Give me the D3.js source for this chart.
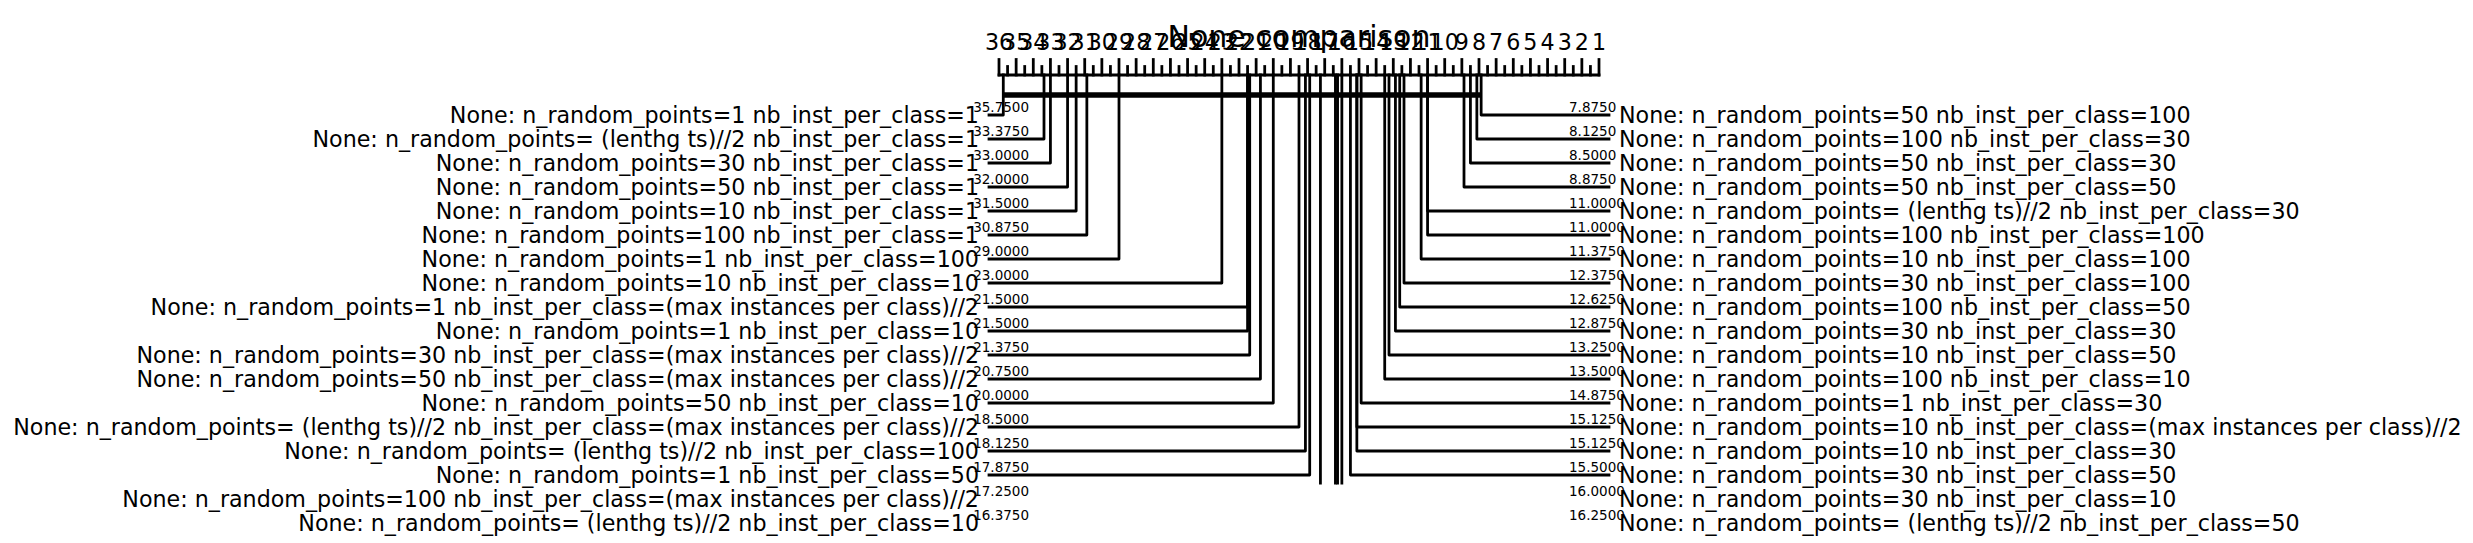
<!DOCTYPE html>
<html>
<head>
<meta charset="utf-8">
<script src="https://cdn.jsdelivr.net/npm/d3@7"></script>
<style>
  html, body { margin: 0; padding: 0; background: #fff; }
  svg text { font-family: "DejaVu Sans", sans-serif; fill: #000; white-space: pre; }
</style>
</head>
<body>
<div id="chart"></div>
<script>
// ---------------- data ----------------
const title = "None comparison";

const leftNames = [
  "None: n_random_points=1 nb_inst_per_class=1",
  "None: n_random_points= (lenthg ts)//2 nb_inst_per_class=1",
  "None: n_random_points=30 nb_inst_per_class=1",
  "None: n_random_points=50 nb_inst_per_class=1",
  "None: n_random_points=10 nb_inst_per_class=1",
  "None: n_random_points=100 nb_inst_per_class=1",
  "None: n_random_points=1 nb_inst_per_class=100",
  "None: n_random_points=10 nb_inst_per_class=10",
  "None: n_random_points=1 nb_inst_per_class=(max instances per class)//2",
  "None: n_random_points=1 nb_inst_per_class=10",
  "None: n_random_points=30 nb_inst_per_class=(max instances per class)//2",
  "None: n_random_points=50 nb_inst_per_class=(max instances per class)//2",
  "None: n_random_points=50 nb_inst_per_class=10",
  "None: n_random_points= (lenthg ts)//2 nb_inst_per_class=(max instances per class)//2",
  "None: n_random_points= (lenthg ts)//2 nb_inst_per_class=100",
  "None: n_random_points=1 nb_inst_per_class=50",
  "None: n_random_points=100 nb_inst_per_class=(max instances per class)//2",
  "None: n_random_points= (lenthg ts)//2 nb_inst_per_class=10"
];
const leftRanks = [35.75, 33.375, 33.0, 32.0, 31.5, 30.875, 29.0, 23.0, 21.5, 21.5,
                   21.375, 20.75, 20.0, 18.5, 18.125, 17.875, 17.25, 16.375];

const rightNames = [
  "None: n_random_points=50 nb_inst_per_class=100",
  "None: n_random_points=100 nb_inst_per_class=30",
  "None: n_random_points=50 nb_inst_per_class=30",
  "None: n_random_points=50 nb_inst_per_class=50",
  "None: n_random_points= (lenthg ts)//2 nb_inst_per_class=30",
  "None: n_random_points=100 nb_inst_per_class=100",
  "None: n_random_points=10 nb_inst_per_class=100",
  "None: n_random_points=30 nb_inst_per_class=100",
  "None: n_random_points=100 nb_inst_per_class=50",
  "None: n_random_points=30 nb_inst_per_class=30",
  "None: n_random_points=10 nb_inst_per_class=50",
  "None: n_random_points=100 nb_inst_per_class=10",
  "None: n_random_points=1 nb_inst_per_class=30",
  "None: n_random_points=10 nb_inst_per_class=(max instances per class)//2",
  "None: n_random_points=10 nb_inst_per_class=30",
  "None: n_random_points=30 nb_inst_per_class=50",
  "None: n_random_points=30 nb_inst_per_class=10",
  "None: n_random_points= (lenthg ts)//2 nb_inst_per_class=50"
];
const rightRanks = [7.875, 8.125, 8.5, 8.875, 11.0, 11.0, 11.375, 12.375, 12.625, 12.875,
                    13.25, 13.5, 14.875, 15.125, 15.125, 15.5, 16.0, 16.25];

const tickValues = d3.range(1, 37);           // integer rank labels 1..36
const cliques = [[35.75, 7.875]];              // groups not significantly different

// ---------------- layout ----------------
const W = 2473, H = 543;
const lowv = 1, highv = 36;
const axisLeft = 999, axisRight = 1599, cline = 75;
const x = d3.scaleLinear().domain([highv, lowv]).range([axisLeft, axisRight]);
const nRows = leftNames.length;
const y = d3.scaleLinear().domain([0, nRows - 1]).range([115, 115 + (nRows - 1) * 24]);
const LW = 2.78;
const FS_LABEL = 22.2, FS_TICK = 22.2, FS_RANK = 13.5, FS_TITLE = 30;

const svg = d3.select("#chart").append("svg")
  .attr("width", W).attr("height", H).attr("viewBox", `0 0 ${W} ${H}`);

svg.append("defs").append("clipPath").attr("id", "clip")
  .append("rect").attr("x", 0).attr("y", 0).attr("width", W).attr("height", 484.5);

const lines = svg.append("g").attr("clip-path", "url(#clip)")
  .attr("fill", "none").attr("stroke", "#000")
  .attr("stroke-linecap", "square").attr("stroke-linejoin", "round");

// axis line
lines.append("line")
  .attr("x1", x(highv)).attr("x2", x(lowv)).attr("y1", cline).attr("y2", cline)
  .attr("stroke-width", LW);

// ticks
const tickPos = d3.range(lowv, highv, 0.5).concat([highv]);
lines.selectAll(".tick").data(tickPos).join("line")
  .attr("x1", d => x(d)).attr("x2", d => x(d))
  .attr("y1", d => cline - (d === Math.floor(d) ? 15.5 : 8.5))
  .attr("y2", cline)
  .attr("stroke-width", LW);

// left connectors
lines.selectAll(".lc").data(leftRanks).join("path")
  .attr("d", (r, i) => d3.line()([[x(r), cline], [x(r), y(i)], [axisLeft - 10, y(i)]]))
  .attr("stroke-width", LW);

// right connectors
lines.selectAll(".rc").data(rightRanks).join("path")
  .attr("d", (r, i) => d3.line()([[x(r), cline], [x(r), y(i)], [axisRight + 10, y(i)]]))
  .attr("stroke-width", LW);

// clique bars
lines.selectAll(".cq").data(cliques).join("line")
  .attr("x1", d => x(d[0]) + 2).attr("x2", d => x(d[1]) - 2)
  .attr("y1", (d, i) => cline + 20 + i * 10).attr("y2", (d, i) => cline + 20 + i * 10)
  .attr("stroke-width", 5.5);

// tick labels
svg.append("g").selectAll("text").data(tickValues).join("text")
  .attr("x", d => x(d)).attr("y", 50)
  .attr("text-anchor", "middle")
  .attr("font-size", FS_TICK)
  .text(d => d);

// title
svg.append("text")
  .attr("x", (axisLeft + axisRight) / 2).attr("y", 47)
  .attr("text-anchor", "middle")
  .attr("font-size", FS_TITLE)
  .text(title);

// left labels and rank numbers
const lg = svg.append("g");
lg.selectAll(".ln").data(leftNames).join("text")
  .attr("x", axisLeft - 20).attr("y", (d, i) => y(i) + 7.5)
  .attr("text-anchor", "end").attr("font-size", FS_LABEL)
  .text(d => d);
lg.selectAll(".lr").data(leftRanks).join("text")
  .attr("x", axisLeft + 30).attr("y", (d, i) => y(i) - 3.2)
  .attr("text-anchor", "end").attr("font-size", FS_RANK)
  .text(d => d.toFixed(4));

// right labels and rank numbers
const rg = svg.append("g");
rg.selectAll(".rn").data(rightNames).join("text")
  .attr("x", axisRight + 20).attr("y", (d, i) => y(i) + 7.5)
  .attr("text-anchor", "start").attr("font-size", FS_LABEL)
  .text(d => d);
rg.selectAll(".rr").data(rightRanks).join("text")
  .attr("x", axisRight - 30).attr("y", (d, i) => y(i) - 3.2)
  .attr("text-anchor", "start").attr("font-size", FS_RANK)
  .text(d => d.toFixed(4));
</script>
</body>
</html>
